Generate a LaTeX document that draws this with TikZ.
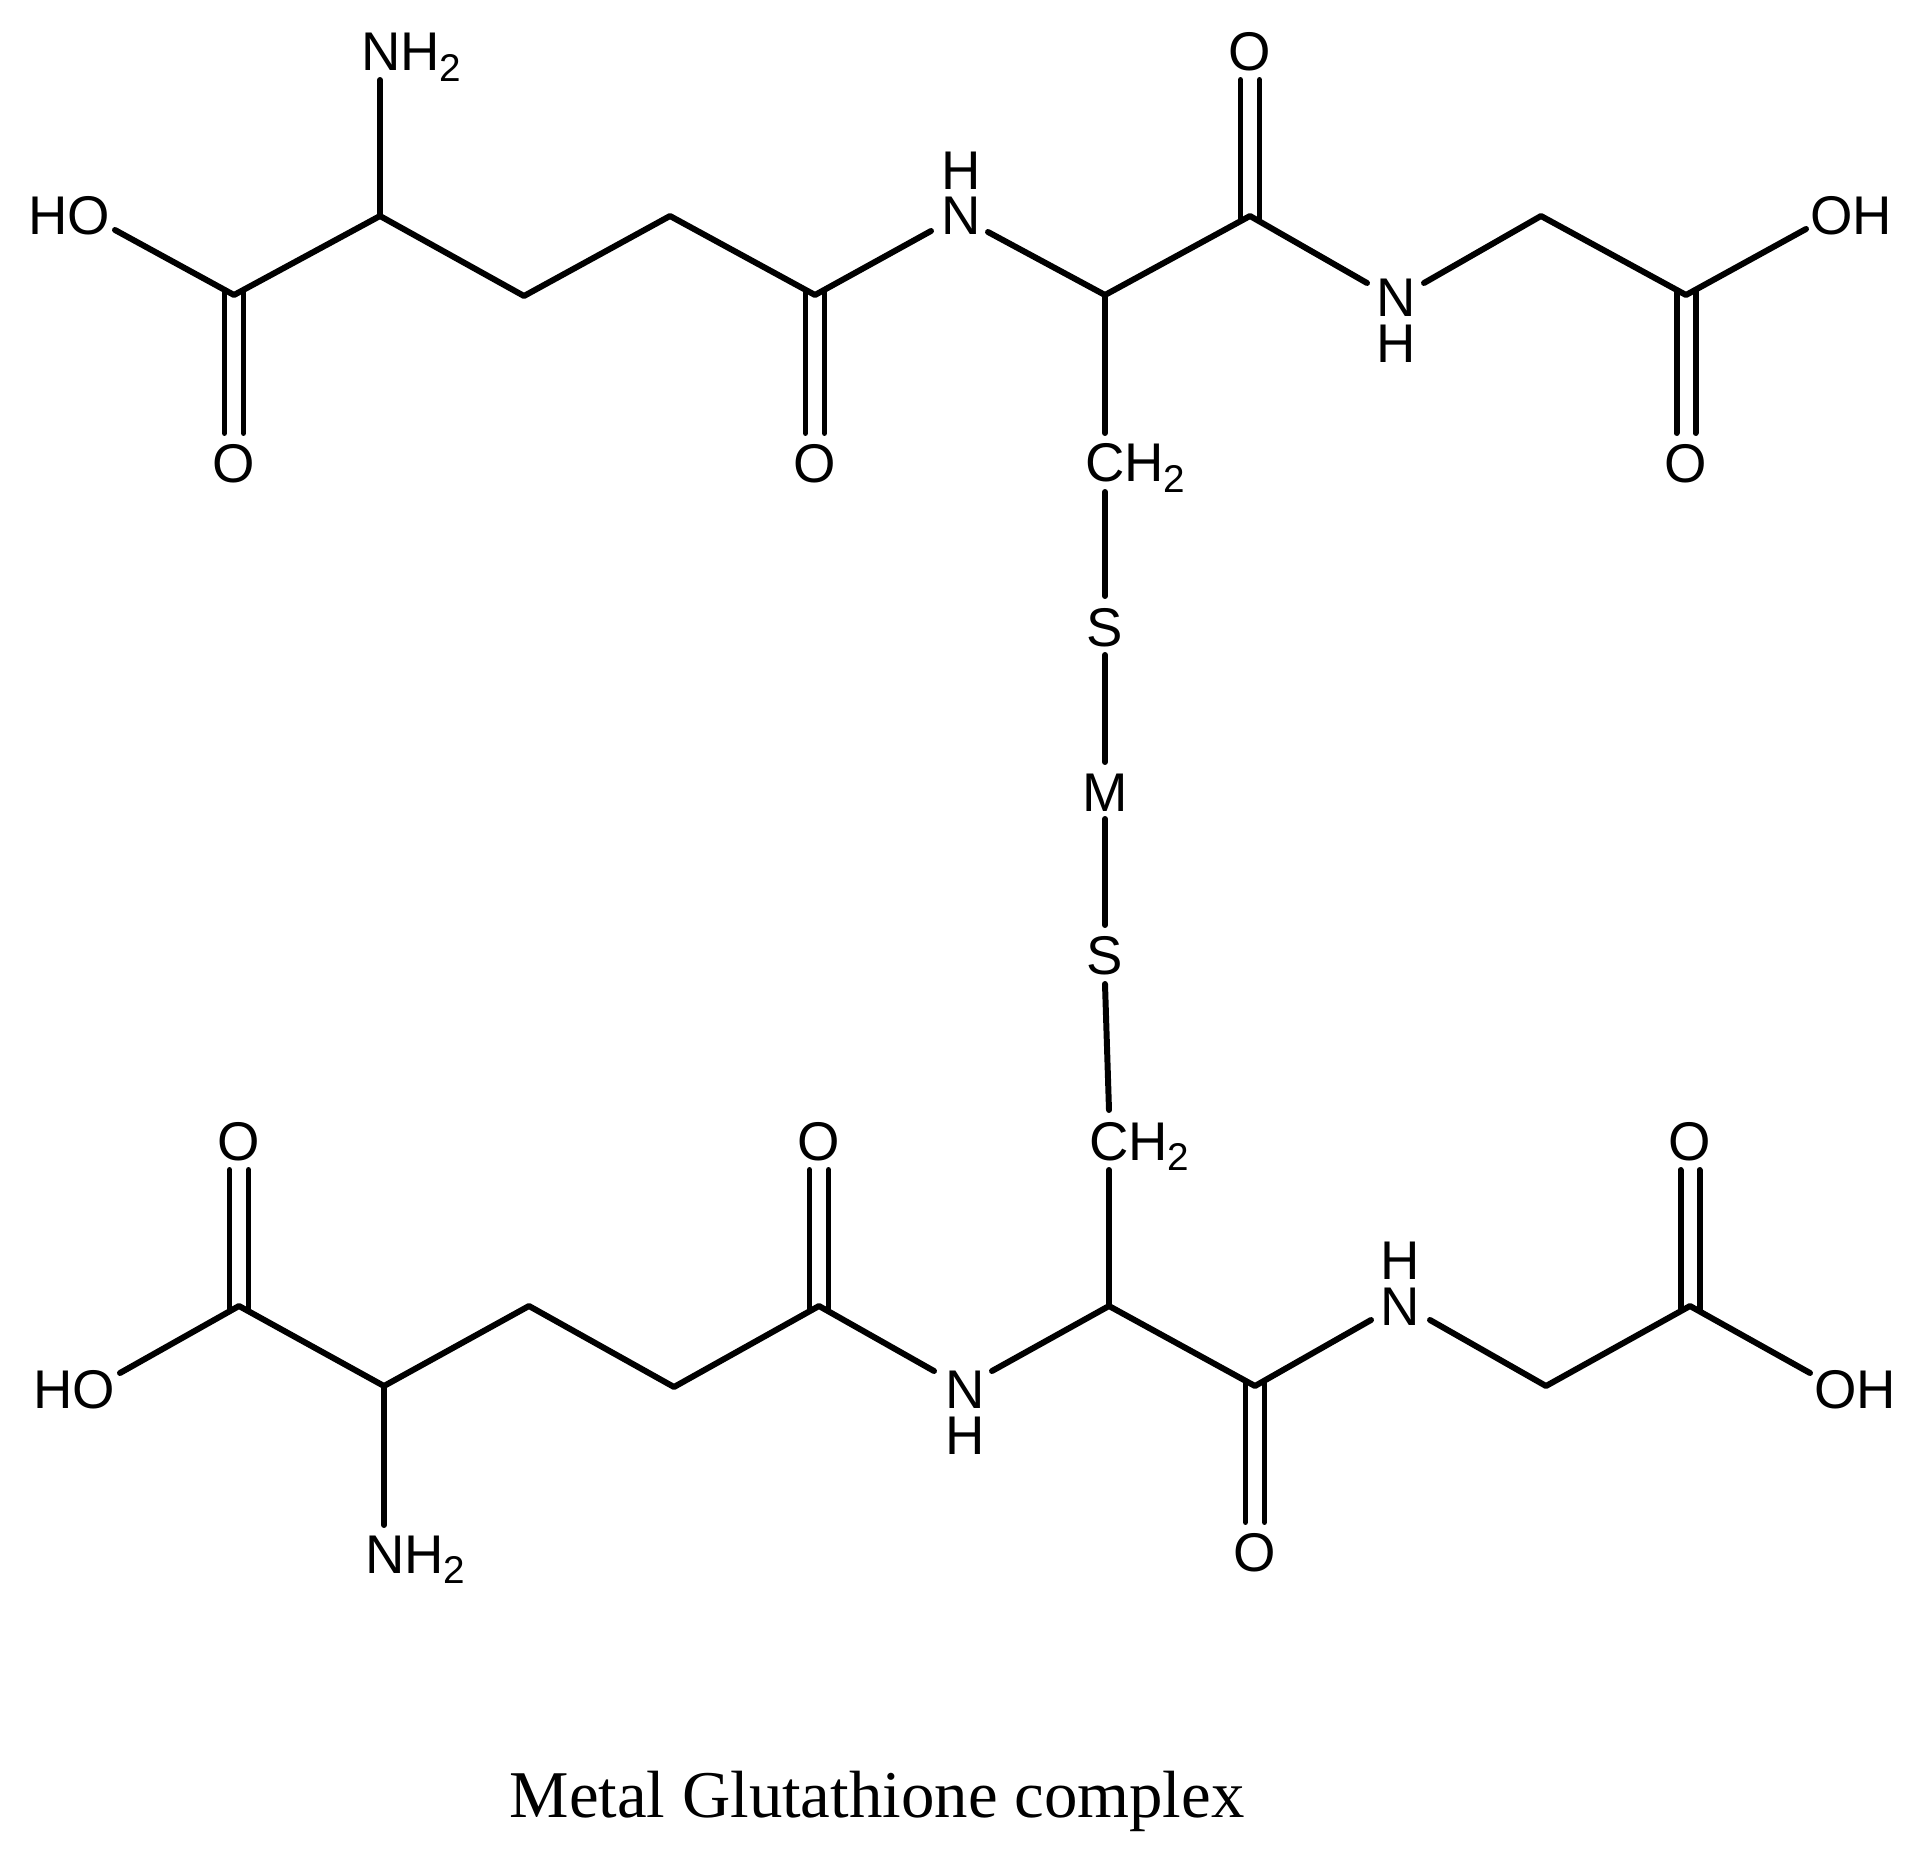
\documentclass[tikz,border=0pt]{standalone}
\usepackage{fontspec}
\setmainfont{Liberation Sans}
\newfontfamily\captionfont{Liberation Serif}
\usepackage{tikz}
\usetikzlibrary{
    calc,
    positioning
}
\newcommand{\subtwo}{\raisebox{-3.1pt}{\fontsize{11}{11}\selectfont 2}}
\tikzset{
    atom/.style={inner sep=0pt, outer sep=0pt, anchor=base, font=\fontsize{15.5}{15.5}\selectfont},
    atomleft/.style={atom, anchor=base west},
    bond/.style={line width=1.7pt, line cap=round, line join=round}
}
\begin{document}
\begin{tikzpicture}[x=0.01cm, y=-0.01cm]
    \useasboundingbox (0, 0) rectangle (1917, 1852);
    \fill[white] (0, 0) rectangle (1917, 1852);
    % upper chain
    \coordinate (ca) at (234, 295);
    \coordinate (cb) at (380, 216);
    \coordinate (cc) at (524, 296);
    \coordinate (cd) at (670, 216);
    \coordinate (ce) at (815, 295);
    \coordinate (cf) at (1105, 295);
    \coordinate (cg) at (1250, 216);
    \coordinate (ch) at (1541, 216);
    \coordinate (ci) at (1686, 295);
    \node[atom] (hoa) at (69, 235) {HO};
    \node[atomleft] (nha) at (361, 71) {NH\subtwo};
    \node[atom] (oa) at (234, 483) {O};
    \node[atom] (ob) at (815, 483) {O};
    \node[atom] (oc) at (1250, 71) {O};
    \node[atom] (od) at (1686, 483) {O};
    \node[atom] (nb) at (961, 235) {N};
    \node[atom] (hb) at (961, 190) {H};
    \node[atom] (nc) at (1396, 317) {N};
    \node[atom] (hc) at (1396, 363) {H};
    \node[atom] (oha) at (1851, 235) {OH};
    \node[atomleft] (cha) at (1085, 482) {CH\subtwo};
    % metal bridge
    \node[atom] (sa) at (1105, 647) {S};
    \node[atom] (m) at (1105, 811) {M};
    \node[atom] (sb) at (1105, 975) {S};
    % lower chain
    \coordinate (da) at (239, 1306);
    \coordinate (db) at (384, 1386);
    \coordinate (dc) at (529, 1306);
    \coordinate (dd) at (674, 1387);
    \coordinate (de) at (819, 1306);
    \coordinate (df) at (1109, 1306);
    \coordinate (dg) at (1255, 1386);
    \coordinate (dh) at (1546, 1386);
    \coordinate (di) at (1690, 1306);
    \node[atomleft] (chb) at (1089, 1160) {CH\subtwo};
    \node[atom] (hod) at (74, 1408) {HO};
    \node[atomleft] (nhb) at (365, 1573) {NH\subtwo};
    \node[atom] (oe) at (239, 1160) {O};
    \node[atom] (of) at (819, 1160) {O};
    \node[atom] (og) at (1255, 1571) {O};
    \node[atom] (oh) at (1690, 1160) {O};
    \node[atom] (ne) at (965, 1408) {N};
    \node[atom] (he) at (965, 1454) {H};
    \node[atom] (nf) at (1400, 1325) {N};
    \node[atom] (hf) at (1400, 1279) {H};
    \node[atom] (ohb) at (1855, 1408) {OH};
    % caption
    \node[inner sep=0pt, anchor=base, font=\captionfont\fontsize{19}{19}\selectfont] (title) at (877, 1817) {Metal Glutathione complex};
    % bonds
    \draw[bond]
    ([shift={(46,-5)}]hoa.base) -- (ca) -- (cb) -- (cc) -- (cd) -- (ce) -- ([shift={(-30,-4)}]nb.base)
    ([shift={(27,-3)}]nb.base) -- (cf) -- (cg) -- ([shift={(-29,-34)}]nc.base)
    ([shift={(28,-34)}]nc.base) -- (ch) -- (ci) -- ([shift={(-45,-6)}]oha.base)
    (cb) -- ([shift={(19,9)}]nha.base west)
    (cf) -- ([shift={(20,-49)}]cha.base west)
    ([shift={(20,10)}]cha.base west) -- ([shift={(0,-51)}]sa.base)
    ([shift={(0,8)}]sa.base) -- ([shift={(0,-49)}]m.base)
    ([shift={(0,8)}]m.base) -- ([shift={(0,-50)}]sb.base)
    ([shift={(0,9)}]sb.base) -- ([shift={(20,-50)}]chb.base west)
    ([shift={(20,10)}]chb.base west) -- (df)
    ([shift={(46,-35)}]hod.base) -- (da) -- (db) -- (dc) -- (dd) -- (de) -- ([shift={(-31,-37)}]ne.base)
    ([shift={(27,-37)}]ne.base) -- (df) -- (dg) -- ([shift={(-29,-5)}]nf.base)
    ([shift={(30,-5)}]nf.base) -- (dh) -- (di) -- ([shift={(-45,-35)}]ohb.base)
    (db) -- ([shift={(19,-48)}]nhb.base west);
    % double bonds
    \foreach \c/\o/\st/\e in {ca/oa/-4/-50, ce/ob/-4/-50, cg/oc/4/9, ci/od/-4/-50, da/oe/4/10, de/of/4/10, dg/og/-4/-49, di/oh/4/10} {
        \draw[bond] ([shift={(-9.5,\st)}]\c) -- ([shift={(-9.5,\e)}]\o.base);
        \draw[bond] ([shift={(9.5,\st)}]\c) -- ([shift={(9.5,\e)}]\o.base);
    }
\end{tikzpicture}
\end{document}
